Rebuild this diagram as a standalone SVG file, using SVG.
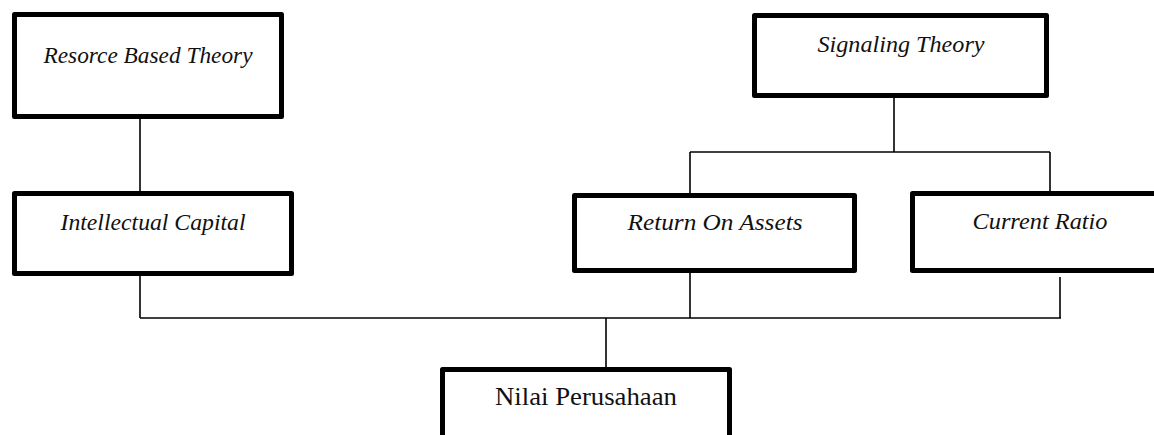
<svg xmlns="http://www.w3.org/2000/svg" width="1154" height="435" viewBox="0 0 1154 435">
<style>
.box{fill:#fff;stroke:#000;stroke-width:5;stroke-linejoin:round}
.lbl{font-family:"Liberation Serif","Times New Roman",serif;font-size:24px;font-style:italic;fill:#111;text-anchor:middle}
.up{font-style:normal;font-size:25px}
.con{stroke:#000;stroke-width:1.6;fill:none}
</style>
<rect width="1154" height="435" fill="#fff"/>
<g id="connectors">
<path class="con" d="M140,119V191"/>
<path class="con" d="M140,276V318"/>
<path class="con" d="M140,318H1061"/>
<path class="con" d="M690,273V318"/>
<path class="con" d="M1060,277V318"/>
<path class="con" d="M606,318V367"/>
<path class="con" d="M894,98V152"/>
<path class="con" d="M690,152H1050"/>
<path class="con" d="M690,152V193"/>
<path class="con" d="M1050,152V191"/>
</g>
<g id="resource-based-theory">
<rect class="box" x="14.5" y="14.5" width="267" height="102"/>
<text class="lbl" x="148" y="63" textLength="209" lengthAdjust="spacingAndGlyphs">Resorce Based Theory</text>
</g>
<g id="intellectual-capital">
<rect class="box" x="14.5" y="193.5" width="277" height="80"/>
<text class="lbl" x="153" y="230" textLength="185" lengthAdjust="spacingAndGlyphs">Intellectual Capital</text>
</g>
<g id="signaling-theory">
<rect class="box" x="754.5" y="15.5" width="292" height="80"/>
<text class="lbl" x="901" y="52" textLength="167" lengthAdjust="spacingAndGlyphs">Signaling Theory</text>
</g>
<g id="return-on-assets">
<rect class="box" x="574.5" y="195.5" width="280" height="75"/>
<text class="lbl" x="715" y="230" textLength="175" lengthAdjust="spacingAndGlyphs">Return On Assets</text>
</g>
<g id="current-ratio">
<rect class="box" x="912.5" y="193.5" width="260" height="77"/>
<text class="lbl" x="1040" y="229" textLength="135" lengthAdjust="spacingAndGlyphs">Current Ratio</text>
</g>
<g id="nilai-perusahaan">
<rect class="box" x="442.5" y="369.5" width="287" height="80"/>
<text class="lbl up" x="586" y="405" textLength="182" lengthAdjust="spacingAndGlyphs">Nilai Perusahaan</text>
</g>
</svg>
